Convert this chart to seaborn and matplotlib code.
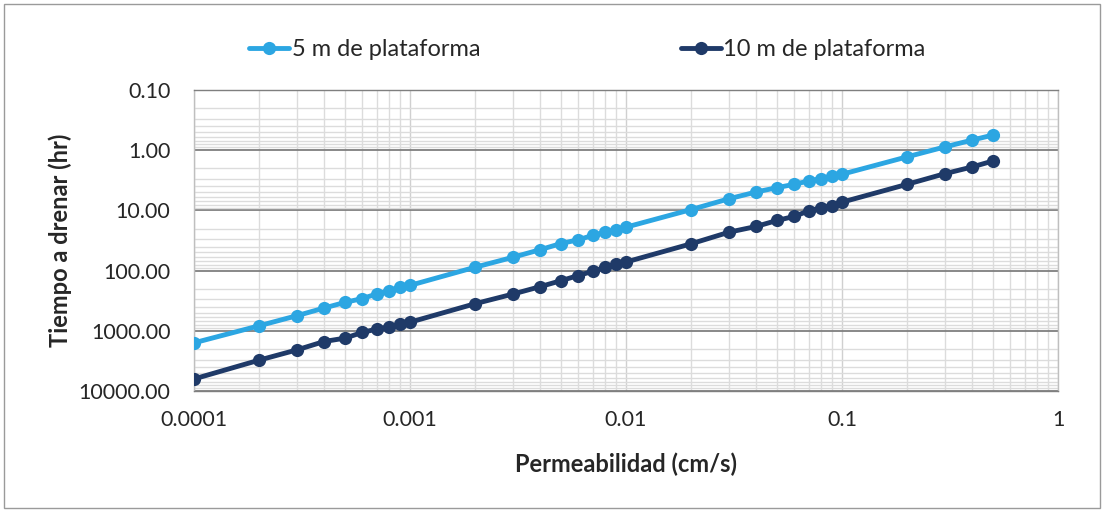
import matplotlib
matplotlib.use("Agg")
import matplotlib.pyplot as plt
import matplotlib.ticker as mticker
from matplotlib.patches import Rectangle
import seaborn as sns
import pandas as pd

# Data
permeabilidad = [0.0001, 0.0002, 0.0003, 0.0004, 0.0005, 0.0006, 0.0007, 0.0008, 0.0009,
                 0.001, 0.002, 0.003, 0.004, 0.005, 0.006, 0.007, 0.008, 0.009,
                 0.01, 0.02, 0.03, 0.04, 0.05, 0.06, 0.07, 0.08, 0.09,
                 0.1, 0.2, 0.3, 0.4, 0.5]
tiempo_5m = [1585, 826, 560, 419, 337, 292, 245, 215, 190,
             176, 88, 60, 45, 35.5, 30.8, 26.1, 23.0, 21.0,
             19.0, 9.7, 6.4, 4.95, 4.19, 3.69, 3.25, 2.96, 2.71,
             2.51, 1.29, 0.88, 0.68, 0.56]
tiempo_10m = [6310, 3076, 2073, 1507, 1324, 1067, 937, 860, 780,
              720, 355, 245, 185, 147, 121, 103, 88, 77,
              72, 35.9, 23.0, 18.5, 14.7, 12.6, 10.2, 9.0, 8.3,
              7.3, 3.69, 2.45, 1.9, 1.51]
series_names = ["5 m de plataforma", "10 m de plataforma"]
series_colors = ["#2CA6E2", "#1F3A68"]
x_ticks = [0.0001, 0.001, 0.01, 0.1, 1]
x_tick_labels = ["0.0001", "0.001", "0.01", "0.1", "1"]
y_ticks = [0.1, 1, 10, 100, 1000, 10000]
y_tick_labels = ["0.10", "1.00", "10.00", "100.00", "1000.00", "10000.00"]

df = pd.concat([
    pd.DataFrame({"k": permeabilidad, "t": tiempo_5m, "serie": series_names[0]}),
    pd.DataFrame({"k": permeabilidad, "t": tiempo_10m, "serie": series_names[1]}),
])

sns.set_style("white")
plt.rcParams["font.family"] = ["Lato", "DejaVu Sans"]

fig = plt.figure(figsize=(11.06, 5.12), dpi=100)
ax = fig.add_axes([194 / 1106, 1 - 391 / 512, (1058 - 194) / 1106, (391 - 90) / 512])

sns.lineplot(data=df, x="k", y="t", hue="serie", palette=series_colors,
             marker="o", markersize=9.5, markeredgewidth=0, linewidth=3.5,
             sort=False, ax=ax, legend=False, zorder=3)

ax.set_xscale("log")
ax.set_yscale("log")
ax.set_xlim(0.0001, 1)
ax.set_ylim(10000, 0.1)

ax.xaxis.set_major_locator(mticker.FixedLocator(x_ticks))
ax.xaxis.set_major_formatter(mticker.FixedFormatter(x_tick_labels))
ax.yaxis.set_major_locator(mticker.FixedLocator(y_ticks))
ax.yaxis.set_major_formatter(mticker.FixedFormatter(y_tick_labels))
ax.xaxis.set_minor_locator(mticker.LogLocator(base=10, subs=range(2, 10), numticks=20))
ax.yaxis.set_minor_locator(mticker.LogLocator(base=10, subs=range(2, 10), numticks=20))
ax.xaxis.set_minor_formatter(mticker.NullFormatter())
ax.yaxis.set_minor_formatter(mticker.NullFormatter())

ax.grid(which="minor", axis="both", color="#dcdcdc", linewidth=1.0)
ax.grid(which="major", axis="x", color="#d0d0d0", linewidth=1.0)
ax.grid(which="major", axis="y", color="#7f7f7f", linewidth=1.3)
ax.set_axisbelow(True)

for s in ax.spines.values():
    s.set_color("#bfbfbf")
    s.set_linewidth(1.0)
ax.spines["bottom"].set_color("#7f7f7f")
ax.spines["top"].set_color("#7f7f7f")

ax.tick_params(axis="both", which="both", length=0, labelsize=15.5, colors="#262626")
ax.tick_params(axis="x", pad=14)
ax.tick_params(axis="y", pad=17)

ax.set_xlabel("Permeabilidad (cm/s)", fontsize=17, fontweight="bold", labelpad=16, color="#262626")
ax.set_ylabel("Tiempo a drenar (hr)", fontsize=17, fontweight="bold", labelpad=5, color="#262626")

handles = [plt.Line2D([], [], color=c, linewidth=3.5, marker="o", markersize=9.5, markeredgewidth=0)
           for c in series_colors]
fig.legend(handles, series_names, loc="center", bbox_to_anchor=(0.531, 1 - 50 / 512),
           ncol=2, frameon=False, fontsize=17, handlelength=1.7, handletextpad=0.1,
           columnspacing=8.5)

fig.patches.append(Rectangle((4 / 1106, 4 / 512), 1 - 10 / 1106, 1 - 8 / 512,
                             transform=fig.transFigure, fill=False,
                             edgecolor="#9a9a9a", linewidth=1.0))

fig.savefig("out.png", dpi=100)
